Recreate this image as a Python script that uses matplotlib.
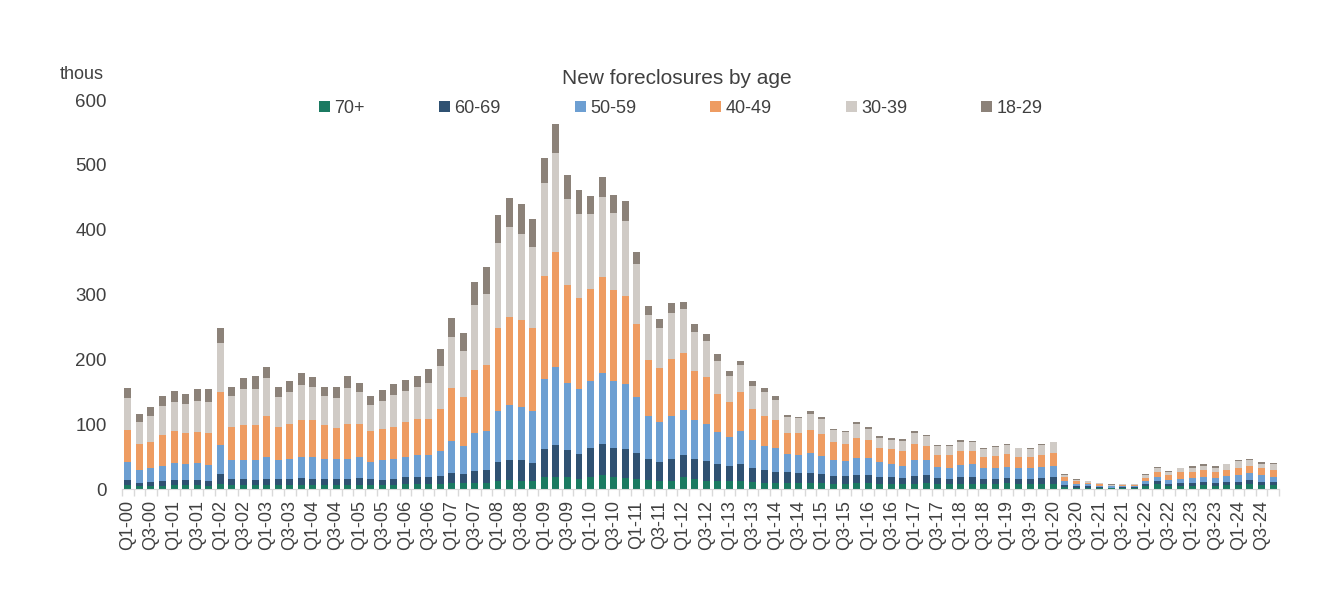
import matplotlib.pyplot as plt
import numpy as np

plt.rcParams['font.family'] = ['Liberation Sans', 'DejaVu Sans']

# quarterly labels Q1-00 .. Q4-24
quarters = [f"Q{q}-{y:02d}" for y in range(25) for q in range(1, 5)]

age_70p = [6, 5, 5, 5, 6, 6, 6, 5, 8, 6, 6, 6, 6, 6, 6, 6, 6, 6, 6, 6,
           6, 6, 6, 6, 7, 7, 7, 8, 9, 9, 10, 9, 12, 14, 13, 12, 18, 18, 18, 15,
           18, 21, 18, 17, 16, 14, 13, 13, 18, 15, 13, 12, 12, 13, 11, 10, 9, 9, 9, 9,
           9, 8, 8, 9, 9, 8, 8, 7, 8, 9, 7, 7, 8, 8, 8, 8, 9, 8, 8, 8,
           8, 3, 2, 2, 2, 1, 1, 1, 4, 7, 4, 5, 5, 6, 5, 6, 6, 8, 6, 6]
age_60_69 = [8, 5, 6, 7, 8, 8, 8, 7, 15, 9, 9, 8, 10, 10, 10, 11, 10, 10, 10, 10,
             11, 9, 8, 10, 11, 11, 11, 12, 16, 14, 18, 21, 30, 31, 32, 28, 44, 50, 42, 39,
             45, 49, 45, 45, 40, 32, 29, 33, 34, 31, 30, 26, 23, 26, 22, 19, 18, 17, 15, 16,
             14, 12, 12, 12, 13, 11, 11, 10, 12, 13, 10, 8, 10, 11, 8, 8, 8, 8, 8, 9,
             10, 3, 3, 2, 1, 1, 2, 2, 3, 5, 4, 4, 5, 5, 5, 5, 5, 6, 5, 5]
age_50_59 = [27, 20, 21, 24, 26, 25, 26, 25, 45, 29, 30, 31, 34, 29, 31, 32, 34, 30, 30, 30,
             32, 27, 30, 30, 32, 34, 35, 38, 49, 44, 59, 60, 78, 84, 82, 80, 107, 120, 103, 101,
             103, 109, 104, 100, 86, 67, 61, 67, 70, 61, 57, 50, 46, 50, 42, 38, 37, 28, 29, 31,
             28, 24, 23, 27, 26, 22, 20, 19, 24, 23, 17, 18, 19, 20, 17, 17, 17, 16, 17, 17,
             18, 7, 3, 3, 2, 2, 1, 1, 6, 7, 6, 7, 7, 7, 7, 9, 10, 11, 10, 8]
age_40_49 = [50, 39, 41, 47, 50, 48, 48, 50, 82, 51, 54, 54, 62, 51, 53, 58, 56, 52, 48, 55,
             52, 47, 48, 50, 53, 56, 55, 66, 82, 75, 97, 102, 129, 137, 134, 129, 159, 177, 151, 140,
             143, 148, 140, 136, 113, 86, 84, 88, 88, 75, 73, 59, 53, 61, 49, 46, 43, 33, 33, 35,
             34, 28, 27, 31, 27, 23, 23, 23, 25, 22, 19, 20, 22, 19, 16, 18, 20, 18, 17, 19,
             20, 5, 4, 3, 3, 1, 2, 2, 4, 7, 7, 10, 9, 11, 9, 10, 12, 11, 11, 11]
age_30_39 = [49, 35, 40, 45, 45, 44, 48, 48, 75, 48, 55, 55, 59, 46, 50, 54, 51, 46, 47, 55,
             48, 41, 44, 49, 48, 49, 56, 66, 79, 71, 100, 109, 131, 138, 132, 125, 144, 154, 134, 130,
             116, 123, 119, 116, 92, 69, 62, 71, 68, 61, 56, 51, 40, 41, 35, 36, 31, 24, 23, 25,
             23, 19, 18, 21, 18, 15, 14, 15, 17, 15, 14, 13, 14, 14, 12, 14, 14, 13, 11, 15,
             16, 3, 2, 2, 1, 1, 1, 1, 4, 6, 5, 6, 7, 7, 7, 8, 10, 8, 7, 9]
age_18_29 = [16, 12, 14, 16, 16, 15, 18, 19, 24, 15, 18, 20, 18, 16, 16, 18, 16, 14, 17, 19,
             15, 14, 16, 17, 17, 18, 21, 26, 29, 27, 35, 41, 43, 45, 46, 42, 39, 44, 37, 37,
             27, 31, 28, 30, 18, 14, 13, 15, 11, 11, 10, 10, 8, 7, 7, 7, 5, 3, 2, 4,
             3, 2, 2, 3, 2, 3, 2, 3, 3, 2, 1, 2, 2, 2, 2, 2, 2, 1, 2, 2,
             1, 2, 1, 1, 1, 1, 1, 1, 2, 2, 2, 1, 2, 2, 2, 1, 1, 2, 2, 1]

series = [('70+', age_70p, '#1b7a61'),
          ('60-69', age_60_69, '#2f5172'),
          ('50-59', age_50_59, '#6d9fd2'),
          ('40-49', age_40_49, '#ee9c62'),
          ('30-39', age_30_39, '#d0cbc6'),
          ('18-29', age_18_29, '#8c8279')]

text_color = '#404040'
fig = plt.figure(figsize=(13.28, 5.96), dpi=100)
ax = fig.add_axes([0.0919, 0.1795, 0.8711, 0.6525])

x = np.arange(len(quarters))
bottom = np.zeros(len(quarters))
for name, vals, color in series:
    ax.bar(x, vals, bottom=bottom, width=0.6, color=color, label=name, linewidth=0)
    bottom += np.array(vals)

ax.set_xlim(-0.5, len(quarters) - 0.5)
ax.set_ylim(0, 600)
ax.set_yticks(range(0, 601, 100))
ax.tick_params(axis='y', length=0, pad=11, labelsize=13.5, labelcolor=text_color)

ax.set_xticks(x[::2])
ax.set_xticklabels(quarters[::2], rotation=90)
ax.tick_params(axis='x', which='major', length=0, pad=8, labelsize=13, labelcolor=text_color)
ax.set_xticks(np.arange(-0.5, len(quarters), 1), minor=True)
ax.tick_params(axis='x', which='minor', length=5, color='#d9d9d9', width=1)

for side in ['top', 'right', 'left']:
    ax.spines[side].set_visible(False)
ax.spines['bottom'].set_color('#d9d9d9')

fig.text(0.51, 0.868, 'New foreclosures by age', ha='center', va='center',
         fontsize=15, color=text_color)
fig.text(0.045, 0.875, 'thous', ha='left', va='center', fontsize=13, color=text_color)

ax.legend(loc='center', bbox_to_anchor=(0.483, 0.979), ncol=6, frameon=False,
          fontsize=13, labelcolor=text_color, handlelength=0.6, handleheight=0.6,
          handletextpad=0.25, columnspacing=4.1)

fig.savefig('out.png', dpi=100)
